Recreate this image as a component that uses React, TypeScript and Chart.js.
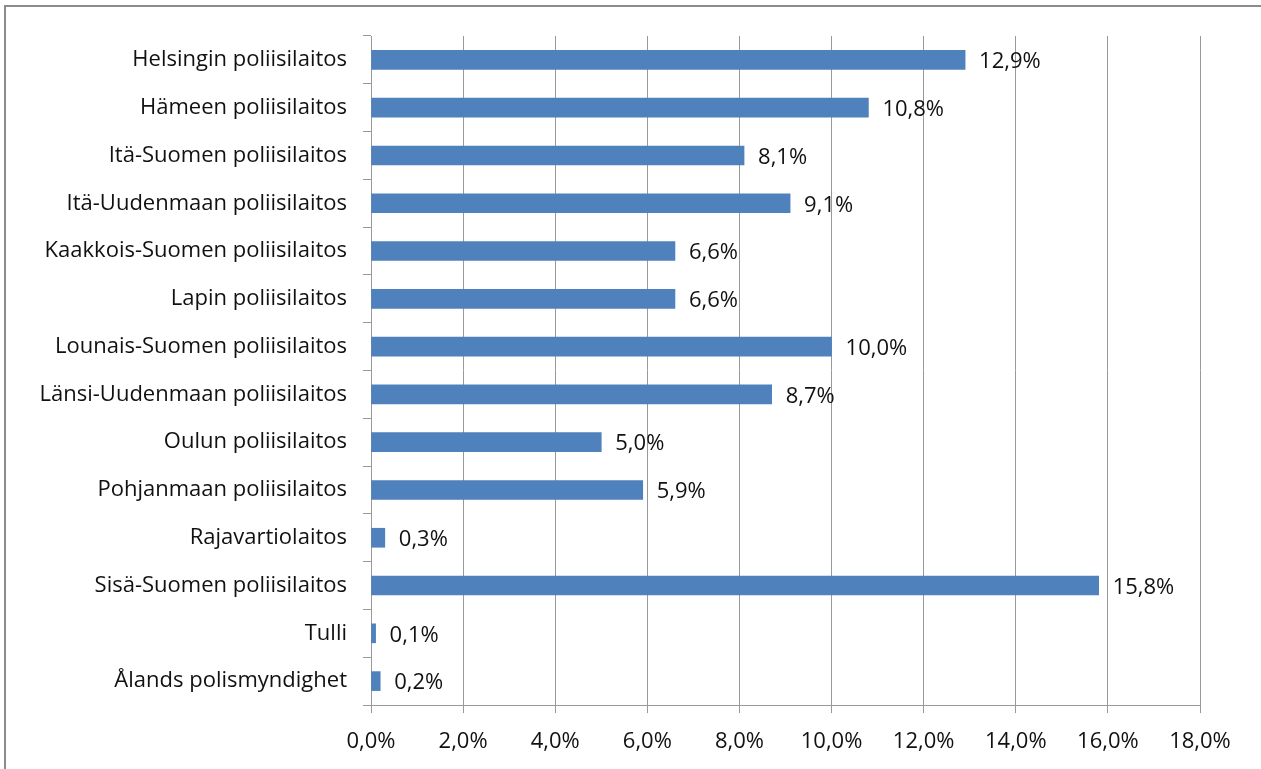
import React, { useEffect, useRef } from "react";
import { Chart, registerables } from "chart.js";

Chart.register(...registerables);

const categories = [
  "Helsingin poliisilaitos",
  "Hämeen poliisilaitos",
  "Itä-Suomen poliisilaitos",
  "Itä-Uudenmaan poliisilaitos",
  "Kaakkois-Suomen poliisilaitos",
  "Lapin poliisilaitos",
  "Lounais-Suomen poliisilaitos",
  "Länsi-Uudenmaan poliisilaitos",
  "Oulun poliisilaitos",
  "Pohjanmaan poliisilaitos",
  "Rajavartiolaitos",
  "Sisä-Suomen poliisilaitos",
  "Tulli",
  "Ålands polismyndighet",
];
const shares = [12.9, 10.8, 8.1, 9.1, 6.6, 6.6, 10.0, 8.7, 5.0, 5.9, 0.3, 15.8, 0.1, 0.2];
const axisMin = 0;
const axisMax = 18;
const axisStep = 2;

const FONT = "'Open Sans', 'Liberation Sans', sans-serif";
const FSIZE = 22;
const fmt = (v: number) => v.toFixed(1).replace(".", ",") + "%";

const valueLabels = {
  id: "valueLabels",
  afterDatasetsDraw(chart: any) {
    const ctx = chart.ctx;
    const meta = chart.getDatasetMeta(0);
    ctx.save();
    ctx.font = `${FSIZE}px ${FONT}`;
    ctx.fillStyle = "#111111";
    ctx.textAlign = "left";
    ctx.textBaseline = "middle";
    meta.data.forEach((bar: any, i: number) => {
      ctx.fillText(fmt(shares[i]), bar.x + 14, bar.y + 2);
    });
    ctx.restore();
  },
};

export default function App() {
  const ref = useRef<HTMLCanvasElement>(null);
  useEffect(() => {
    const chart = new Chart(ref.current!, {
      type: "bar",
      data: {
        labels: categories,
        datasets: [
          {
            data: shares,
            backgroundColor: "#4F81BD",
            barThickness: 19,
          },
        ],
      },
      plugins: [valueLabels],
      options: {
        indexAxis: "y",
        animation: false,
        responsive: false,
        maintainAspectRatio: false,
        layout: { padding: { top: 36, right: 61, left: 0, bottom: 0 } },
        plugins: { legend: { display: false }, tooltip: { enabled: false } },
        scales: {
          x: {
            min: axisMin,
            max: axisMax,
            ticks: {
              stepSize: axisStep,
              callback: (v: any) => fmt(Number(v)),
              font: { size: FSIZE, family: FONT },
              color: "#111111",
              padding: 16,
              maxRotation: 0,
            },
            grid: { color: "#999999", lineWidth: 1, tickLength: 8 },
            border: { color: "#999999" },
            afterFit: (s: any) => {
              s.height = 769 - 705;
            },
          },
          y: {
            ticks: {
              font: { size: FSIZE, family: FONT },
              color: "#111111",
              padding: 16,
            },
            grid: { drawOnChartArea: false, color: "#999999", tickLength: 8, offset: true },
            border: { color: "#999999" },
            afterFit: (s: any) => {
              s.width = 371;
            },
          },
        },
      },
    });
    return () => chart.destroy();
  }, []);
  return (
    <div style={{ position: "fixed", left: 0, top: 0, width: 1261, height: 769, background: "#fff" }}>
      <div
        style={{
          position: "absolute",
          left: 4,
          top: 5,
          width: 1261,
          height: 769,
          border: "2px solid #8c8c8c",
          boxSizing: "border-box",
        }}
      />
      <canvas ref={ref} width={1261} height={769} style={{ position: "absolute", left: 0, top: 0 }} />
    </div>
  );
}
